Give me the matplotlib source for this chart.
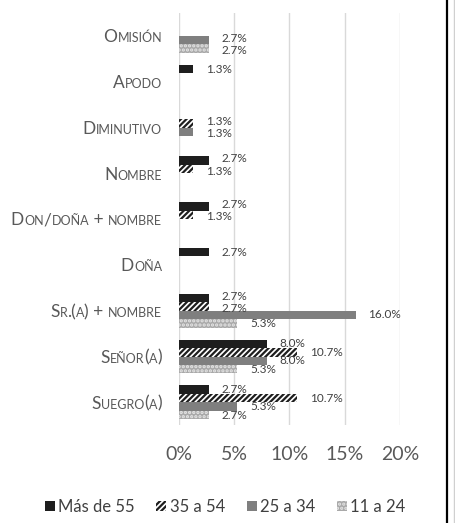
import numpy as np
import matplotlib
matplotlib.use("Agg")
import matplotlib.pyplot as plt
from matplotlib import font_manager, transforms
from matplotlib.patches import Patch
from matplotlib.lines import Line2D

categories = ["Omisión", "Apodo", "Diminutivo", "Nombre", "Don/doña + nombre",
              "Doña", "Sr.(a) + nombre", "Señor(a)", "Suegro(a)"]
series = ["Más de 55", "35 a 54", "25 a 34", "11 a 24"]
mas_55 = [0, 1.3, 0, 2.7, 2.7, 2.7, 2.7, 8.0, 2.7]
de_35_54 = [0, 0, 1.3, 1.3, 1.3, 0, 2.7, 10.7, 10.7]
de_25_34 = [2.7, 0, 1.3, 0, 0, 0, 16.0, 8.0, 5.3]
de_11_24 = [2.7, 0, 0, 0, 0, 0, 5.3, 5.3, 2.7]
xticks = [0, 5, 10, 15, 20]
xtick_labels = ["0%", "5%", "10%", "15%", "20%"]


# pick a narrow-ish font if one is around
def pick_font(names):
    for n in names:
        try:
            font_manager.findfont(n, fallback_to_default=False)
            return n
        except Exception:
            pass
    return "DejaVu Sans"


font = pick_font(["Liberation Sans Narrow", "Lato", "Roboto"])
plt.rcParams["font.family"] = font
plt.rcParams["hatch.linewidth"] = 1.6

styles = [
    dict(color="#1e1e1e"),
    dict(color="white", hatch="//////", edgecolor="#1e1e1e"),
    dict(color="#7f7f7f"),
    dict(color="#a9a9a9", hatch="....", edgecolor="#e6e6e6"),
]

fig = plt.figure(figsize=(4.55, 5.23), dpi=100)
ax = fig.add_axes([0.393, 0.187, 0.486, 0.788])

values = [mas_55, de_35_54, de_25_34, de_11_24]
n = len(categories)
y = np.arange(n)
h = 0.185
labels = [[] for _ in range(n)]   # per category: [x, y, text]
for i, (vals, st) in enumerate(zip(values, styles)):
    pos = y + (i - 1.5) * h
    ax.barh(pos, vals, height=h, linewidth=0, **st)
    for k, (p, v) in enumerate(zip(pos, vals)):
        if v > 0:
            labels[k].append([v, p, f"{v:.1f}%"])

ax.set_ylim(n - 0.5, -0.5)
ax.set_xlim(0, 20)

# spread the data labels a bit when they would sit on top of each other (like Excel)
min_gap = 0.27
lab_w = 2.4  # rough label width in data units
for group in labels:
    for _ in range(20):
        for a, b in zip(group, group[1:]):
            if abs(a[0] - b[0]) < lab_w and b[1] - a[1] < min_gap:
                d = (min_gap - (b[1] - a[1])) / 2
                a[1] -= d
                b[1] += d
    for x, yy, txt in group:
        ax.annotate(txt, (x, yy), xytext=(9, 0), textcoords="offset points",
                    ha="left", va="center", fontsize=8.5, color="#404040")

ax.set_xticks(xticks)
ax.set_xticklabels(xtick_labels, fontsize=14, color="#595959")
ax.tick_params(axis="x", length=0, pad=15)
ax.set_yticks([])
ax.grid(axis="x", color="#d9d9d9", linewidth=1)
ax.set_axisbelow(True)
for s in ax.spines.values():
    s.set_visible(False)


# small caps category labels, built from pieces
def pieces(label):
    out = []
    for ch in label:
        small = ch.islower()
        txt = ch.upper() if small else ch
        if out and out[-1][1] == small:
            out[-1][0] += txt
        else:
            out.append([txt, small])
    return out


renderer = fig.canvas.get_renderer()
base = transforms.blended_transform_factory(ax.transAxes, ax.transData)
for k, label in enumerate(categories):
    x_off = -12.0
    for txt, small in reversed(pieces(label)):
        tr = transforms.offset_copy(base, fig=fig, x=x_off, y=-4.5, units="points")
        t = ax.text(0, k, txt, transform=tr, ha="right", va="baseline",
                    fontsize=9 if small else 12.5, color="#595959")
        x_off -= t.get_window_extent(renderer).width * 72 / fig.dpi

handles = [Patch(facecolor=st["color"], hatch=st.get("hatch"),
                 edgecolor=st.get("edgecolor", st["color"]), linewidth=0) for st in styles]
fig.legend(handles, series, loc="center", bbox_to_anchor=(0.495, 0.031), ncol=4,
           frameon=False, fontsize=12, handlelength=0.6, handleheight=0.6,
           handletextpad=0.2, columnspacing=1.3, labelcolor="#404040")

fig.add_artist(Line2D([446.5 / 455] * 2, [0, 1], color="black", linewidth=1.6,
                      transform=fig.transFigure))
fig.add_artist(Line2D([454 / 455] * 2, [0, 1], color="#d0d0d0", linewidth=1,
                      transform=fig.transFigure))

fig.savefig("out.png", dpi=100)
